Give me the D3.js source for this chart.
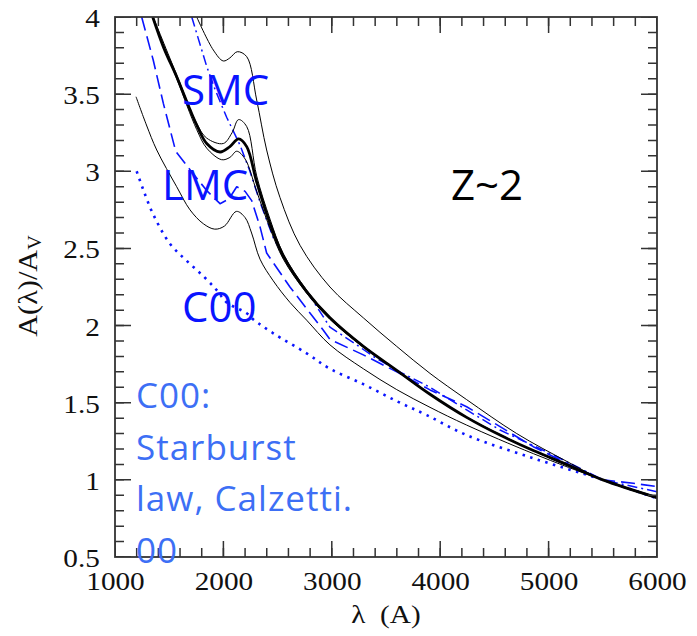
<!DOCTYPE html>
<html>
<head>
<meta charset="utf-8">
<script src="https://cdn.jsdelivr.net/npm/d3@7"></script>
<style>
  html, body { margin: 0; padding: 0; background: #fff; }
  svg { display: block; }
</style>
</head>
<body>
<svg id="chart" width="697" height="636"></svg>
<script>
// Extinction curves A(λ)/A_V, wavelength in Å
const xTicks = [1000, 2000, 3000, 4000, 5000, 6000];
const yTicks = [0.5, 1, 1.5, 2, 2.5, 3, 3.5, 4];
const xMinorStep = 200;
const yMinorStep = 0.1;

// mean z~2 curve (thick) and its envelope (thin)
const meanCurve = [[1348,4.0],[1450,3.80],[1569,3.613],[1692,3.40],[1754,3.30],[1846,3.18],[1969,3.125],[2060,3.16],[2140,3.21],[2215,3.16],[2307,2.93],[2430,2.66],[2553,2.45],[2768,2.22],[2983,2.05],[3291,1.865],[3599,1.71],[3906,1.555],[4244,1.405],[4552,1.29],[4859,1.19],[5167,1.10],[5500,1.0],[6000,0.885]];
const upperNear = [[1352,4.0],[1569,3.625],[1754,3.31],[1846,3.215],[1999,3.18],[2080,3.25],[2140,3.335],[2215,3.29],[2307,2.97],[2430,2.69],[2553,2.465],[2768,2.23],[2983,2.055],[3291,1.87],[3599,1.712],[3906,1.557],[4244,1.407],[4859,1.19],[5500,1.0],[6000,0.885]];
const lowerNear = [[1345,4.0],[1569,3.60],[1754,3.27],[1846,3.15],[1984,3.075],[2060,3.09],[2123,3.13],[2200,3.08],[2307,2.87],[2430,2.63],[2553,2.43],[2768,2.21],[2983,2.04],[3291,1.86],[3599,1.705],[3906,1.552],[4244,1.403],[4859,1.19],[5500,1.0],[6000,0.885]];
const upperFar = [[1754,4.0],[1907,3.786],[1999,3.715],[2060,3.735],[2128,3.775],[2215,3.743],[2307,3.462],[2399,3.138],[2522,2.83],[2707,2.52],[2983,2.25],[3291,2.05],[3599,1.865],[3906,1.69],[4244,1.52],[4706,1.30],[5167,1.12],[5500,1.0],[6000,0.88]];
const lowerFar = [[1194,3.483],[1290,3.30],[1385,3.138],[1569,2.90],[1692,2.75],[1815,2.66],[1920,2.625],[2010,2.645],[2120,2.74],[2200,2.70],[2260,2.60],[2338,2.43],[2460,2.29],[2614,2.15],[2768,2.035],[2983,1.875],[3291,1.72],[3599,1.585],[3906,1.47],[4244,1.355],[4859,1.17],[5500,1.0],[6000,0.89]];

// reference laws
const lmcCurve = [[1246,4.0],[1353,3.72],[1446,3.44],[1560,3.13],[1692,3.01],[1846,2.875],[1969,2.79],[2050,2.82],[2123,2.90],[2200,2.87],[2261,2.81],[2338,2.64],[2399,2.47],[2614,2.25],[2922,1.97],[2983,1.91],[3291,1.81],[3599,1.70],[3906,1.583],[4244,1.474],[4552,1.345],[4859,1.215],[5167,1.107],[5500,1.0],[5781,0.978],[6000,0.956]];
const smcCurve = [[1708,4.0],[1846,3.68],[1923,3.53],[2030,3.35],[2153,3.17],[2245,3.00],[2338,2.80],[2460,2.57],[2645,2.34],[2799,2.19],[2983,1.99],[3199,1.89],[3383,1.80],[3599,1.71],[3906,1.60],[4244,1.453],[4552,1.323],[5044,1.161],[5500,1.0],[6000,0.923]];
const c00Curve = [[1200,3.0],[1261,2.88],[1353,2.72],[1507,2.53],[1661,2.42],[1815,2.32],[1938,2.23],[2030,2.15],[2215,2.08],[2276,2.04],[2460,1.95],[2768,1.82],[2983,1.72],[3291,1.62],[3599,1.51],[3875,1.42],[4244,1.29],[4859,1.14],[5500,1.0],[6000,0.88]];

const svg = d3.select("#chart");
const padL = 115, padR = 657, padT = 17, padB = 557;
const x = d3.scaleLinear().domain([1000, 6000]).range([padL, padR]);
const y = d3.scaleLinear().domain([0.5, 4]).range([padB, padT]);

svg.append("defs").append("clipPath").attr("id", "plotArea")
  .append("rect").attr("x", padL).attr("y", padT).attr("width", padR - padL).attr("height", padB - padT);

const smooth = d3.line().x(d => x(d[0])).y(d => y(d[1])).curve(d3.curveCatmullRom.alpha(0.5));
const straight = d3.line().x(d => x(d[0])).y(d => y(d[1])).curve(d3.curveLinear);

const plot = svg.append("g").attr("clip-path", "url(#plotArea)");

const blue = "#0a14ff";
const series = [
  { data: c00Curve, gen: smooth, color: blue, width: 2.6, dash: "2.5 5.5" },
  { data: lmcCurve, gen: straight, color: blue, width: 1.6, dash: "14 6" },
  { data: smcCurve, gen: straight, color: blue, width: 1.5, dash: "10 4 2 4" },
  { data: upperFar, gen: smooth, color: "#000", width: 1 },
  { data: lowerFar, gen: smooth, color: "#000", width: 1 },
  { data: upperNear, gen: smooth, color: "#000", width: 1 },
  { data: lowerNear, gen: smooth, color: "#000", width: 1 },
  { data: meanCurve, gen: smooth, color: "#000", width: 2.8 }
];
series.forEach(s => {
  plot.append("path")
    .attr("d", s.gen(s.data))
    .attr("fill", "none")
    .attr("stroke", s.color)
    .attr("stroke-width", s.width)
    .attr("stroke-dasharray", s.dash || null)
    .attr("stroke-linejoin", "round");
});

// inward tick marks: each side is one wide stroke broken into short dashes,
// with the dash period taken from the scale spacing of the tick step
const axisColor = "#333";
const majorLen = 16, minorLen = 9, tickW = 1.5;
const xMajorStep = xTicks[1] - xTicks[0];
const yMajorStep = yTicks[1] - yTicks[0];
function tickRow(x1, y1, x2, y2, period, len) {
  svg.append("path")
    .attr("d", d3.line()([[x1, y1], [x2, y2]]))
    .attr("fill", "none")
    .attr("stroke", axisColor)
    .attr("stroke-width", len)
    .attr("stroke-dasharray", `${tickW} ${period - tickW}`)
    .attr("stroke-dashoffset", tickW / 2);
}
const x0 = x(xTicks[0]), x1 = x(xTicks[xTicks.length - 1]);
const y0 = y(yTicks[0]), y1 = y(yTicks[yTicks.length - 1]);
[[xMajorStep, majorLen], [xMinorStep, minorLen]].forEach(([step, len]) => {
  const period = x(xTicks[0] + step) - x(xTicks[0]);
  tickRow(x0, padB - len / 2, x1, padB - len / 2, period, len);
  tickRow(x0, padT + len / 2, x1, padT + len / 2, period, len);
});
[[yMajorStep, majorLen], [yMinorStep, minorLen]].forEach(([step, len]) => {
  const period = y(yTicks[0]) - y(yTicks[0] + step);
  tickRow(padL + len / 2, y0, padL + len / 2, y1, period, len);
  tickRow(padR - len / 2, y0, padR - len / 2, y1, period, len);
});

svg.append("rect")
  .attr("x", padL).attr("y", padT).attr("width", padR - padL).attr("height", padB - padT)
  .attr("fill", "none").attr("stroke", axisColor).attr("stroke-width", 1.8);

// tick labels
const serif = "'Liberation Serif', 'DejaVu Serif', serif";
const xAxis = svg.append("g").attr("transform", `translate(0,${padB})`)
  .call(d3.axisBottom(x).tickValues(xTicks).tickFormat(d3.format("d")).tickSize(0).tickPadding(0));
const yAxis = svg.append("g").attr("transform", `translate(${padL},0)`)
  .call(d3.axisLeft(y).tickValues(yTicks).tickFormat(d => String(d)).tickSize(0).tickPadding(0));
[xAxis, yAxis].forEach(a => {
  a.select(".domain").remove();
  a.selectAll("line").remove();
  a.selectAll("text").attr("font-family", serif).attr("font-size", 25).attr("fill", "#111");
});
xAxis.selectAll("text").attr("dy", null).attr("y", 33).attr("transform", "scale(1.17,1)");
yAxis.selectAll("text").attr("x", -13).attr("dy", "0.38em").attr("transform", "scale(1.17,1)");

// axis titles
svg.append("text")
  .attr("transform", `translate(${(padL + padR) / 2},623) scale(1.17,1)`)
  .attr("text-anchor", "middle")
  .attr("font-family", serif).attr("font-size", 25).attr("fill", "#111")
  .attr("xml:space", "preserve")
  .text("λ  (A)");

const yTitle = svg.append("text")
  .attr("transform", `translate(37,286) rotate(-90) scale(1.12,1)`)
  .attr("text-anchor", "middle")
  .attr("font-family", serif).attr("font-size", 27).attr("fill", "#111");
yTitle.append("tspan").text("A(λ)/A");
yTitle.append("tspan").attr("font-size", 18).attr("dy", 4).text("V");

// annotations
const sans = "'Open Sans', 'Noto Sans', sans-serif";
const notes = [
  { t: "SMC", x: 182, y: 105, c: blue, s: 42 },
  { t: "LMC", x: 162, y: 200, c: blue, s: 42 },
  { t: "C00", x: 182, y: 322, c: blue, s: 42 },
  { t: "Z~2", x: 451, y: 200, c: "#000", s: 42 }
];
notes.forEach(n => {
  svg.append("text").attr("x", n.x).attr("y", n.y)
    .attr("font-family", sans).attr("font-size", n.s).attr("fill", n.c)
    .text(n.t);
});

const lawLines = ["C00:", "Starburst", "law, Calzetti.", "00"];
const lawText = svg.append("text").attr("font-family", sans).attr("font-size", 35)
  .attr("letter-spacing", 1).attr("fill", "#3d6ff5");
lawLines.forEach((l, i) => {
  lawText.append("tspan").attr("x", 136).attr("y", 408 + i * 51.7).text(l);
});
</script>
</body>
</html>
